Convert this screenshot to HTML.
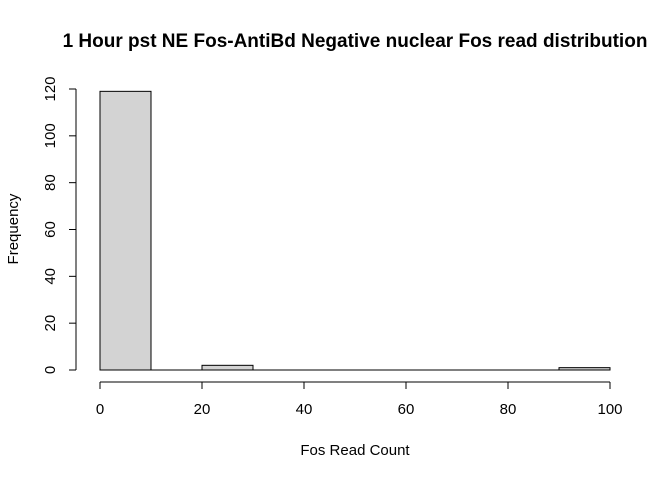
<!DOCTYPE html>
<html><head><meta charset="utf-8"><style>body{margin:0;background:#fff}svg{display:block;font-family:"Liberation Sans",Arial,sans-serif}</style></head>
<body>
<svg id="c" width="672" height="480">
<text x="355" y="47" text-anchor="middle" font-size="19" font-weight="bold">1 Hour pst NE Fos-AntiBd Negative nuclear Fos read distribution</text>
<text x="355" y="455" text-anchor="middle" font-size="15">Fos Read Count</text>
<text transform="translate(18,229) rotate(-90)" text-anchor="middle" font-size="15">Frequency</text>
<g id="bars"></g><g id="xa"></g><g id="ya"></g>
</svg>
<script>
const binEdges=[0,10,20,30,40,50,60,70,80,90,100];
const counts=[119,0,2,0,0,0,0,0,0,1];
const xTicks=[0,20,40,60,80,100];
const yTicks=[0,20,40,60,80,100,120];
const NS="http://www.w3.org/2000/svg";
const X=v=>100+v*5.1, Y=v=>370-v*(281/120);
function mk(t,a,p){const e=document.createElementNS(NS,t);for(const k in a)e.setAttribute(k,a[k]);p.appendChild(e);return e;}
const bars=document.getElementById('bars');
counts.forEach((c,i)=>{
 let r;
 if(c===0){
  r=mk('line',{x1:X(binEdges[i]),x2:X(binEdges[i+1]),y1:Y(0),y2:Y(0),stroke:'#000','stroke-width':1},bars);
 } else {
  r=mk('rect',{x:X(binEdges[i]),y:Y(c),width:X(binEdges[i+1])-X(binEdges[i]),height:Y(0)-Y(c),fill:'#d3d3d3',stroke:'#000','stroke-width':1},bars);
 }
 
 
});
const xa=document.getElementById('xa');
mk('line',{x1:X(xTicks[0]),x2:X(xTicks[xTicks.length-1]),y1:382,y2:382,stroke:'#000'},xa);
xTicks.forEach(t=>{
 mk('line',{x1:X(t),x2:X(t),y1:382,y2:389,stroke:'#000'},xa);
 const tx=mk('text',{x:X(t),y:414,'text-anchor':'middle','font-size':15},xa);tx.textContent=t;
 
 
});
const ya=document.getElementById('ya');
mk('line',{x1:76,x2:76,y1:Y(yTicks[0]),y2:Y(yTicks[yTicks.length-1]),stroke:'#000'},ya);
yTicks.forEach(t=>{
 mk('line',{x1:69,x2:76,y1:Y(t),y2:Y(t),stroke:'#000'},ya);
 const tx=mk('text',{transform:`translate(55,${Y(t)}) rotate(-90)`,'text-anchor':'middle','font-size':15},ya);tx.textContent=t;
 
 
});
</script>
</body></html>
